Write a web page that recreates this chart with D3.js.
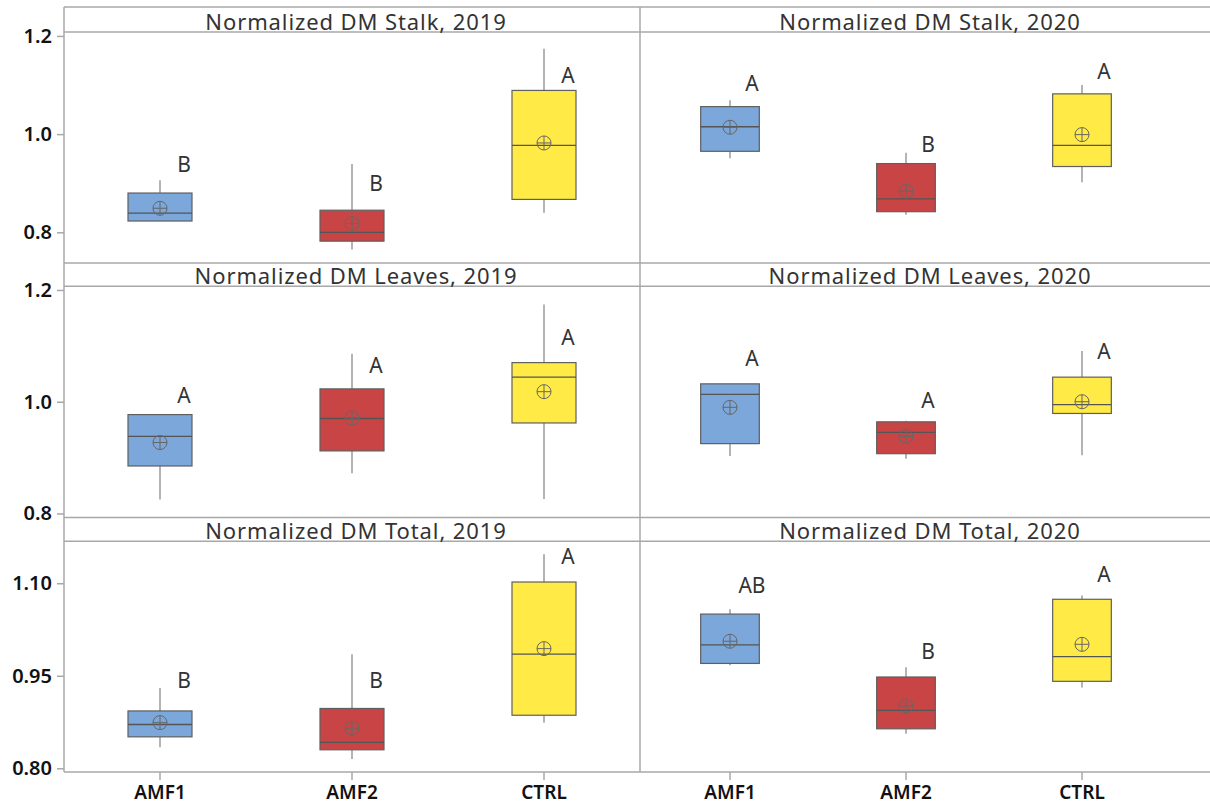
<!DOCTYPE html>
<html>
<head>
<meta charset="utf-8">
<script src="https://cdn.jsdelivr.net/npm/d3@7/dist/d3.min.js"></script>
<style>
  html, body { margin: 0; padding: 0; background: #fff; }
  svg { display: block; }
  svg text { font-family: "Noto Sans", "Open Sans", sans-serif; }
</style>
</head>
<body>
<svg id="chart" width="1210" height="805"></svg>
<script>
// Treatment groups on the x axis
const groups = ["AMF1", "AMF2", "CTRL"];
const groupColors = ["#7ba7da", "#c94444", "#ffea46"];

// Box summaries per group: [whisker low, Q1, median, Q3, whisker high, mean]
const stalk2019 = [
  [0.823, 0.823, 0.839, 0.880, 0.906, 0.849],
  [0.765, 0.782, 0.800, 0.845, 0.939, 0.818],
  [0.840, 0.867, 0.977, 1.089, 1.174, 0.982]
];
const stalk2020 = [
  [0.951, 0.965, 1.015, 1.056, 1.069, 1.014],
  [0.836, 0.842, 0.868, 0.940, 0.962, 0.884],
  [0.902, 0.934, 0.977, 1.082, 1.100, 0.999]
];
const leaves2019 = [
  [0.825, 0.885, 0.938, 0.977, 0.977, 0.927],
  [0.872, 0.912, 0.970, 1.023, 1.086, 0.971],
  [0.826, 0.962, 1.044, 1.070, 1.174, 1.018]
];
const leaves2020 = [
  [0.903, 0.925, 1.013, 1.032, 1.032, 0.990],
  [0.898, 0.907, 0.945, 0.964, 0.966, 0.938],
  [0.904, 0.979, 0.995, 1.044, 1.091, 1.000]
];
const total2019 = [
  [0.834, 0.851, 0.871, 0.893, 0.930, 0.874],
  [0.815, 0.830, 0.842, 0.897, 0.985, 0.865],
  [0.874, 0.886, 0.985, 1.102, 1.147, 0.994]
];
const total2020 = [
  [0.967, 0.970, 1.000, 1.050, 1.058, 1.006],
  [0.856, 0.864, 0.894, 0.948, 0.964, 0.901],
  [0.931, 0.941, 0.981, 1.074, 1.080, 1.001]
];

// Significance letters and the value at which each letter sits
const letters = [
  ["B", "B", "A"], ["A", "B", "A"],
  ["A", "A", "A"], ["A", "A", "A"],
  ["B", "B", "A"], ["AB", "B", "A"]
];
const letterValues = [
  [0.923, 0.884, 1.104], [1.088, 0.963, 1.112],
  [0.998, 1.051, 1.101], [1.064, 0.988, 1.076],
  [0.930, 0.930, 1.132], [1.084, 0.977, 1.102]
];

const panelTitles = [
  "Normalized DM Stalk, 2019", "Normalized DM Stalk, 2020",
  "Normalized DM Leaves, 2019", "Normalized DM Leaves, 2020",
  "Normalized DM Total, 2019", "Normalized DM Total, 2020"
];
const panelData = [stalk2019, stalk2020, leaves2019, leaves2020, total2019, total2020];

// Y axis per row
const rowTickValues = [[0.8, 1.0, 1.2], [0.8, 1.0, 1.2], [0.80, 0.95, 1.10]];
const rowTickLabels = [["0.8", "1.0", "1.2"], ["0.8", "1.0", "1.2"], ["0.80", "0.95", "1.10"]];
const rowDomains = [[0.7375, 1.208], [0.7928, 1.2066], [0.794, 1.168]];

// ---- layout ----
const svg = d3.select("#chart");
const fontStack = '"Noto Sans", "Open Sans", sans-serif';
const frameLeft = 64, frameMid = 640, frameRight = 1220;
const rows = [
  { headTop: 7,   plotTop: 32,    plotBottom: 263 },
  { headTop: 263, plotTop: 286.3, plotBottom: 517.5 },
  { headTop: 517.5, plotTop: 541.3, plotBottom: 772 }
];
const colRanges = [[64, 640], [642, 1170]];
const headCenters = [(frameLeft + frameMid) / 2 + 4, (frameMid + frameRight) / 2];

const xScales = colRanges.map(r => d3.scaleBand().domain(groups).range(r).padding(0));
const yScales = rows.map((r, i) => d3.scaleLinear().domain(rowDomains[i]).range([r.plotBottom, r.plotTop]));

const gridColor = "#a8a8a8";

// frame lines
const frame = svg.append("g").attr("stroke", gridColor).attr("stroke-width", 1.5).attr("fill", "none");
rows.forEach(r => {
  frame.append("line").attr("x1", frameLeft).attr("x2", 1210).attr("y1", r.headTop).attr("y2", r.headTop);
  frame.append("line").attr("x1", frameLeft).attr("x2", 1210).attr("y1", r.plotTop).attr("y2", r.plotTop);
});
frame.append("line").attr("x1", frameLeft).attr("x2", 1210).attr("y1", 772).attr("y2", 772);
frame.append("line").attr("x1", frameLeft).attr("x2", frameLeft).attr("y1", 7).attr("y2", 772);
frame.append("line").attr("x1", frameMid).attr("x2", frameMid).attr("y1", 7).attr("y2", 772);

// y axes
rows.forEach((r, i) => {
  const ax = d3.axisLeft(yScales[i])
    .tickValues(rowTickValues[i])
    .tickFormat((d, k) => rowTickLabels[i][k])
    .tickSize(7).tickPadding(5);
  const g = svg.append("g").attr("transform", `translate(${frameLeft},0)`).call(ax)
    .attr("font-family", fontStack).attr("font-size", 20);
  g.select(".domain").remove();
  g.selectAll(".tick line").attr("stroke", gridColor).attr("stroke-width", 1.5);
  g.selectAll(".tick text")
    .attr("fill", "#111").style("font-size", "20px").style("font-weight", 600);
});

// x axes at bottom
xScales.forEach(xs => {
  const ax = d3.axisBottom(xs).tickSize(8).tickPadding(6);
  const g = svg.append("g").attr("transform", `translate(0,772)`).call(ax)
    .attr("font-family", fontStack).attr("font-size", 19);
  g.select(".domain").remove();
  g.selectAll(".tick line").attr("stroke", gridColor).attr("stroke-width", 1.5);
  g.selectAll(".tick text")
    .attr("fill", "#111").style("font-size", "19px").style("font-weight", 600);
});

// panels
panelData.forEach((data, p) => {
  const row = Math.floor(p / 2), col = p % 2;
  const xs = xScales[col], ys = yScales[row], r = rows[row];
  const bw = xs.bandwidth(), boxW = bw / 3;

  svg.append("text")
    .attr("x", headCenters[col]).attr("y", r.plotTop - 2)
    .attr("text-anchor", "middle")
    .attr("fill", "#333").style("font-size", "22px").style("letter-spacing", "0.9px")
    .text(panelTitles[p]);

  const g = svg.append("g");
  data.forEach((d, k) => {
    const cx = xs(groups[k]) + bw / 2;
    const [lo, q1, med, q3, hi, mean] = d;
    // whiskers
    g.append("line").attr("x1", cx).attr("x2", cx).attr("y1", ys(q3)).attr("y2", ys(hi))
      .attr("stroke", "#8c8c8c").attr("stroke-width", 1.3);
    g.append("line").attr("x1", cx).attr("x2", cx).attr("y1", ys(q1)).attr("y2", ys(lo))
      .attr("stroke", "#8c8c8c").attr("stroke-width", 1.3);
    // box
    g.append("rect")
      .attr("x", cx - boxW / 2).attr("y", ys(q3))
      .attr("width", boxW).attr("height", ys(q1) - ys(q3))
      .attr("fill", groupColors[k]).attr("stroke", "#5f5f5f").attr("stroke-width", 1.2);
    // median
    g.append("line").attr("x1", cx - boxW / 2).attr("x2", cx + boxW / 2)
      .attr("y1", ys(med)).attr("y2", ys(med))
      .attr("stroke", "#555").attr("stroke-width", 1.3);
    // mean symbol: circle with cross
    const my = ys(mean), mr = 7;
    g.append("circle").attr("cx", cx).attr("cy", my).attr("r", mr)
      .attr("fill", "none").attr("stroke", "#666").attr("stroke-width", 1);
    g.append("line").attr("x1", cx - mr).attr("x2", cx + mr).attr("y1", my).attr("y2", my)
      .attr("stroke", "#666").attr("stroke-width", 1);
    g.append("line").attr("x1", cx).attr("x2", cx).attr("y1", my - mr).attr("y2", my + mr)
      .attr("stroke", "#666").attr("stroke-width", 1);
    // grouping letter
    g.append("text")
      .attr("x", cx + bw * 0.125).attr("y", ys(letterValues[p][k]))
      .attr("text-anchor", "middle")
      .attr("fill", "#333").style("font-size", "21px")
      .text(letters[p][k]);
  });
});
</script>
</body>
</html>
